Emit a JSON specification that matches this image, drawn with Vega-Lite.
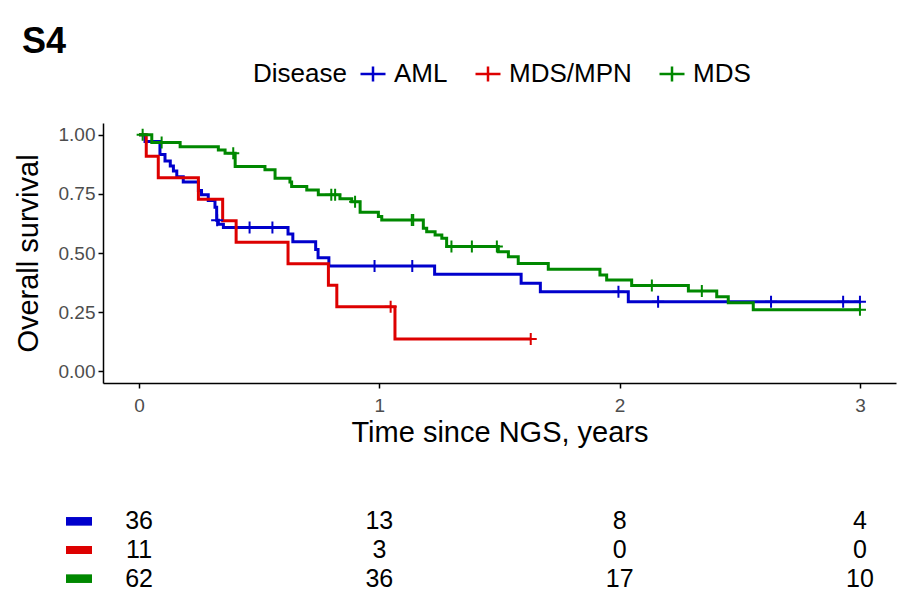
{
  "$schema": "https://vega.github.io/schema/vega-lite/v6.json",
  "background": "white",
  "padding": {"left": 14, "top": 24, "right": 5, "bottom": 5},
  "title": {"text": "S4", "anchor": "start", "fontSize": 36, "fontWeight": "bold", "font": "Liberation Sans", "color": "black", "offset": 4, "frame": "bounds", "dx": 8, "dy": 5},
  "config": {"view": {"stroke": null}, "font": "Liberation Sans"},
  "spacing": 60,
  "datasets": {
    "curves": [
      {"Disease": "AML", "time": 0, "surv": 1.0},
      {"Disease": "AML", "time": 0.025, "surv": 0.972},
      {"Disease": "AML", "time": 0.087, "surv": 0.917},
      {"Disease": "AML", "time": 0.108, "surv": 0.889},
      {"Disease": "AML", "time": 0.13, "surv": 0.868},
      {"Disease": "AML", "time": 0.143, "surv": 0.847},
      {"Disease": "AML", "time": 0.157, "surv": 0.823},
      {"Disease": "AML", "time": 0.184, "surv": 0.8},
      {"Disease": "AML", "time": 0.247, "surv": 0.764},
      {"Disease": "AML", "time": 0.26, "surv": 0.746},
      {"Disease": "AML", "time": 0.288, "surv": 0.722},
      {"Disease": "AML", "time": 0.316, "surv": 0.694},
      {"Disease": "AML", "time": 0.323, "surv": 0.639},
      {"Disease": "AML", "time": 0.33, "surv": 0.622},
      {"Disease": "AML", "time": 0.351, "surv": 0.608},
      {"Disease": "AML", "time": 0.62, "surv": 0.58},
      {"Disease": "AML", "time": 0.64, "surv": 0.548},
      {"Disease": "AML", "time": 0.735, "surv": 0.515},
      {"Disease": "AML", "time": 0.745, "surv": 0.48},
      {"Disease": "AML", "time": 0.79, "surv": 0.445},
      {"Disease": "AML", "time": 1.23, "surv": 0.41},
      {"Disease": "AML", "time": 1.59, "surv": 0.372},
      {"Disease": "AML", "time": 1.67, "surv": 0.336},
      {"Disease": "AML", "time": 2.036, "surv": 0.294},
      {"Disease": "AML", "time": 3.0, "surv": 0.294},
      {"Disease": "MDS/MPN", "time": 0, "surv": 1.0},
      {"Disease": "MDS/MPN", "time": 0.03, "surv": 0.909},
      {"Disease": "MDS/MPN", "time": 0.08, "surv": 0.818},
      {"Disease": "MDS/MPN", "time": 0.247, "surv": 0.727},
      {"Disease": "MDS/MPN", "time": 0.348, "surv": 0.636},
      {"Disease": "MDS/MPN", "time": 0.404, "surv": 0.545},
      {"Disease": "MDS/MPN", "time": 0.62, "surv": 0.455},
      {"Disease": "MDS/MPN", "time": 0.788, "surv": 0.364},
      {"Disease": "MDS/MPN", "time": 0.823, "surv": 0.273},
      {"Disease": "MDS/MPN", "time": 1.065, "surv": 0.136},
      {"Disease": "MDS/MPN", "time": 1.63, "surv": 0.136},
      {"Disease": "MDS", "time": 0, "surv": 1.0},
      {"Disease": "MDS", "time": 0.053, "surv": 0.967},
      {"Disease": "MDS", "time": 0.171, "surv": 0.95},
      {"Disease": "MDS", "time": 0.33, "surv": 0.936},
      {"Disease": "MDS", "time": 0.358, "surv": 0.922},
      {"Disease": "MDS", "time": 0.4, "surv": 0.866},
      {"Disease": "MDS", "time": 0.524, "surv": 0.852},
      {"Disease": "MDS", "time": 0.566, "surv": 0.816},
      {"Disease": "MDS", "time": 0.628, "surv": 0.8},
      {"Disease": "MDS", "time": 0.635, "surv": 0.781},
      {"Disease": "MDS", "time": 0.698, "surv": 0.767},
      {"Disease": "MDS", "time": 0.746, "surv": 0.746},
      {"Disease": "MDS", "time": 0.836, "surv": 0.729},
      {"Disease": "MDS", "time": 0.885, "surv": 0.717},
      {"Disease": "MDS", "time": 0.92, "surv": 0.672},
      {"Disease": "MDS", "time": 0.996, "surv": 0.654},
      {"Disease": "MDS", "time": 1.01, "surv": 0.64},
      {"Disease": "MDS", "time": 1.183, "surv": 0.605},
      {"Disease": "MDS", "time": 1.197, "surv": 0.59},
      {"Disease": "MDS", "time": 1.232, "surv": 0.576},
      {"Disease": "MDS", "time": 1.26, "surv": 0.562},
      {"Disease": "MDS", "time": 1.28, "surv": 0.527},
      {"Disease": "MDS", "time": 1.495, "surv": 0.505},
      {"Disease": "MDS", "time": 1.537, "surv": 0.484},
      {"Disease": "MDS", "time": 1.578, "surv": 0.456},
      {"Disease": "MDS", "time": 1.703, "surv": 0.431},
      {"Disease": "MDS", "time": 1.918, "surv": 0.407},
      {"Disease": "MDS", "time": 1.946, "surv": 0.386},
      {"Disease": "MDS", "time": 2.05, "surv": 0.362},
      {"Disease": "MDS", "time": 2.286, "surv": 0.339},
      {"Disease": "MDS", "time": 2.404, "surv": 0.315},
      {"Disease": "MDS", "time": 2.452, "surv": 0.289},
      {"Disease": "MDS", "time": 2.556, "surv": 0.26},
      {"Disease": "MDS", "time": 3.0, "surv": 0.26}
    ],
    "censors": [
      {"Disease": "AML", "time": 0.325, "surv": 0.639},
      {"Disease": "AML", "time": 0.46, "surv": 0.608},
      {"Disease": "AML", "time": 0.555, "surv": 0.608},
      {"Disease": "AML", "time": 0.98, "surv": 0.445},
      {"Disease": "AML", "time": 1.137, "surv": 0.445},
      {"Disease": "AML", "time": 1.995, "surv": 0.336},
      {"Disease": "AML", "time": 2.16, "surv": 0.294},
      {"Disease": "AML", "time": 2.63, "surv": 0.294},
      {"Disease": "AML", "time": 2.93, "surv": 0.294},
      {"Disease": "AML", "time": 3.0, "surv": 0.294},
      {"Disease": "MDS/MPN", "time": 1.047, "surv": 0.273},
      {"Disease": "MDS/MPN", "time": 1.63, "surv": 0.136},
      {"Disease": "MDS", "time": 0.015, "surv": 1.0},
      {"Disease": "MDS", "time": 0.094, "surv": 0.967},
      {"Disease": "MDS", "time": 0.392, "surv": 0.922},
      {"Disease": "MDS", "time": 0.8, "surv": 0.746},
      {"Disease": "MDS", "time": 0.816, "surv": 0.746},
      {"Disease": "MDS", "time": 0.899, "surv": 0.717},
      {"Disease": "MDS", "time": 1.135, "surv": 0.64},
      {"Disease": "MDS", "time": 1.141, "surv": 0.64},
      {"Disease": "MDS", "time": 1.3, "surv": 0.527},
      {"Disease": "MDS", "time": 1.385, "surv": 0.527},
      {"Disease": "MDS", "time": 1.489, "surv": 0.527},
      {"Disease": "MDS", "time": 2.134, "surv": 0.362},
      {"Disease": "MDS", "time": 2.342, "surv": 0.339},
      {"Disease": "MDS", "time": 3.0, "surv": 0.26}
    ],
    "risk": [
      {"Disease": "AML", "time": 0, "n": 36},
      {"Disease": "AML", "time": 1, "n": 13},
      {"Disease": "AML", "time": 2, "n": 8},
      {"Disease": "AML", "time": 3, "n": 4},
      {"Disease": "MDS/MPN", "time": 0, "n": 11},
      {"Disease": "MDS/MPN", "time": 1, "n": 3},
      {"Disease": "MDS/MPN", "time": 2, "n": 0},
      {"Disease": "MDS/MPN", "time": 3, "n": 0},
      {"Disease": "MDS", "time": 0, "n": 62},
      {"Disease": "MDS", "time": 1, "n": 36},
      {"Disease": "MDS", "time": 2, "n": 17},
      {"Disease": "MDS", "time": 3, "n": 10}
    ]
  },
  "vconcat": [
    {
      "width": 793,
      "height": 260,
      "layer": [
        {
          "data": {"name": "curves"},
          "mark": {"type": "line", "interpolate": "step-after", "strokeWidth": 3},
          "encoding": {
            "x": {
              "field": "time", "type": "quantitative",
              "scale": {"domain": [-0.15, 3.15], "nice": false, "zero": false},
              "axis": {
                "values": [0, 1, 2, 3], "format": "d", "grid": false,
                "labelFontSize": 19, "labelColor": "#4D4D4D", "labelPadding": 8,
                "tickColor": "black", "tickWidth": 1.5, "tickSize": 5,
                "domainColor": "black", "domainWidth": 1.5,
                "title": "Time since NGS, years", "titleFontSize": 29, "titleFontWeight": "normal",
                "titleColor": "black", "titlePadding": 3
              }
            },
            "y": {
              "field": "surv", "type": "quantitative",
              "scale": {"domain": [-0.05, 1.05], "nice": false, "zero": false},
              "axis": {
                "values": [0, 0.25, 0.5, 0.75, 1], "format": ".2f", "grid": false,
                "labelFontSize": 19, "labelColor": "#4D4D4D", "labelPadding": 3,
                "tickColor": "black", "tickWidth": 1.5, "tickSize": 5,
                "domainColor": "black", "domainWidth": 1.5,
                "title": "Overall survival", "titleFontSize": 29, "titleFontWeight": "normal",
                "titleColor": "black", "titlePadding": 15
              }
            },
            "color": {
              "field": "Disease", "type": "nominal",
              "scale": {"domain": ["AML", "MDS/MPN", "MDS"], "range": ["#0000CC", "#DD0000", "#008800"]},
              "legend": {
                "orient": "none", "legendX": 150, "legendY": -63, "direction": "horizontal",
                "title": "Disease", "titleOrient": "left", "titleFontSize": 26, "titleFontWeight": "normal",
                "titleColor": "black", "titlePadding": 12,
                "labelFontSize": 26, "labelColor": "black", "labelOffset": 7, "columnPadding": 22,
                "symbolType": "M-1,0H1M0,-0.6V0.6", "symbolSize": 625, "symbolStrokeWidth": 2.5
              }
            }
          }
        },
        {
          "data": {"name": "censors"},
          "mark": {"type": "point", "shape": "M-1,0H1M0,-1V1", "size": 144, "strokeWidth": 2, "filled": false, "opacity": 1},
          "encoding": {
            "x": {"field": "time", "type": "quantitative"},
            "y": {"field": "surv", "type": "quantitative"},
            "color": {"field": "Disease", "type": "nominal"}
          }
        }
      ]
    },
    {
      "width": 793,
      "height": 86,
      "data": {"name": "risk"},
      "layer": [
        {
          "mark": {"type": "text", "fontSize": 25, "color": "black"},
          "encoding": {
            "x": {"field": "time", "type": "quantitative", "scale": {"domain": [-0.15, 3.15], "nice": false, "zero": false}, "axis": null},
            "y": {"field": "Disease", "type": "nominal", "scale": {"domain": ["AML", "MDS/MPN", "MDS"]}, "axis": null},
            "text": {"field": "n", "type": "quantitative"}
          }
        },
        {
          "mark": {"type": "point", "shape": "M-1,-0.3H1V0.3H-1Z", "size": 676, "filled": true, "opacity": 1},
          "encoding": {
            "x": {"datum": -0.25, "type": "quantitative"},
            "y": {"field": "Disease", "type": "nominal"},
            "color": {"field": "Disease", "type": "nominal", "scale": {"domain": ["AML", "MDS/MPN", "MDS"], "range": ["#0000CC", "#DD0000", "#008800"]}, "legend": null}
          }
        }
      ]
    }
  ]
}
